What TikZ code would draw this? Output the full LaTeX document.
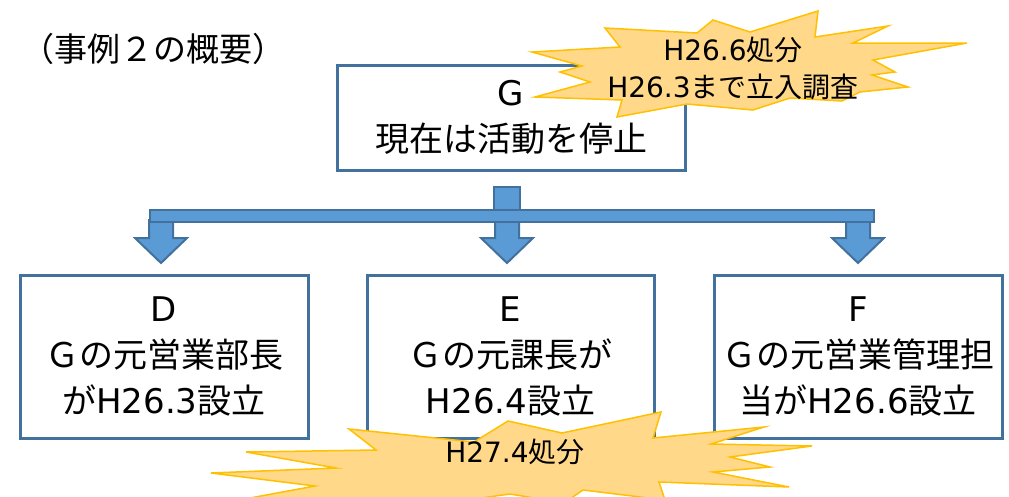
\documentclass[tikz,border=0pt]{standalone}
\usepackage{fontspec}
\newfontfamily\jp{Noto Sans CJK JP}
\newfontfamily\latf{DejaVu Sans}
\newcommand{\lt}[1]{{\latf #1}}
\definecolor{boxline}{RGB}{65,113,156}
\definecolor{arrfill}{RGB}{91,155,213}
\definecolor{burstfill}{RGB}{255,216,138}
\definecolor{burstline}{RGB}{255,192,0}
\tikzset{
  orgbox/.style={draw=boxline, line width=3pt, fill=white, rectangle, align=center,
    font=\jp\fontsize{34}{46}\selectfont, inner sep=0pt},
  arrowshape/.style={fill=arrfill, draw=boxline, line width=2pt, line join=miter},
  burst/.style={fill=burstfill, draw=burstline, line width=1.5pt, line join=miter},
  bursttext/.style={align=center, font=\jp\fontsize{28}{37}\selectfont, inner sep=0pt},
  titletext/.style={font=\jp\fontsize{33}{38}\selectfont, inner sep=0pt}
}
\begin{document}
\begin{tikzpicture}[x=1pt,y=-1pt]
\useasboundingbox (0,0) rectangle (1009,496);
\clip (0,0) rectangle (1009,496);

% title
\node[titletext] (title) at (153,49) {（事例２の概要）};

% boxes
\node[orgbox, minimum width=348pt, minimum height=105pt] (G) at (511,117.5) {\lt{G}\\現在は活動を停止};
\node[orgbox, minimum width=288pt, minimum height=163pt] (D) at (164,356.5) {\lt{D}\\Ｇの元営業部長\\が\lt{H26.3}設立};
\node[orgbox, minimum width=287pt, minimum height=163pt] (E) at (510.5,356.5) {\lt{E}\\Ｇの元課長が\\\lt{H26.4}設立};
\node[orgbox, minimum width=288pt, minimum height=163pt] (F) at (858,356.5) {\lt{F}\\Ｇの元営業管理担\\当が\lt{H26.6}設立};

% connector arrows (block elbow arrow from G to D, E, F)
\coordinate (barL) at (150,210);
\coordinate (barR) at (874,222);
% stub
\draw[arrowshape] (494,187) rectangle (520,212);
% down arrows
\foreach \cx/\nm in {161/D,507/E,858/F}{
  \draw[arrowshape] (\cx-12,220) -- (\cx+12,220) -- (\cx+12,238) -- (\cx+26,238)
     -- (\cx,263) -- (\cx-26,238) -- (\cx-12,238) -- cycle;
}
% bar
\draw[arrowshape] (barL) rectangle (barR);

% upper burst
\draw[burst] (818,11) -- (815,37) -- (888,26) -- (853,43) -- (967,43) -- (873,60)
  -- (895,72) -- (872,75) -- (908,87) -- (860,92) -- (842,101) -- (790,98)
  -- (753,110) -- (687,104) -- (617,117) -- (622,100) -- (535,97) -- (590,82)
  -- (560,72) -- (582,66) -- (532,52) -- (620,47) -- (605,28) -- (697,33)
  -- (713,20) -- (750,32) -- cycle;
\node[bursttext] (b1) at (733,68) {\lt{H26.6}処分\\\lt{H26.3}まで立入調査};

% lower burst
\draw[burst] (349,429) -- (474,442) -- (508,421) -- (562,433) -- (661,412)
  -- (653,438) -- (764,427) -- (711,444) -- (812,446) -- (730,457) -- (770,467)
  -- (713,472) -- (789,487) -- (659,482) -- (665,500) -- (583,490) -- (564,503)
  -- (510,494) -- (445,503) -- (361,500) -- (250,498) -- (315,486) -- (211,473)
  -- (336,468) -- (246,452) -- (376,450) -- cycle;
\node[bursttext] (b2) at (515,452) {\lt{H27.4}処分};
\end{tikzpicture}
\end{document}
